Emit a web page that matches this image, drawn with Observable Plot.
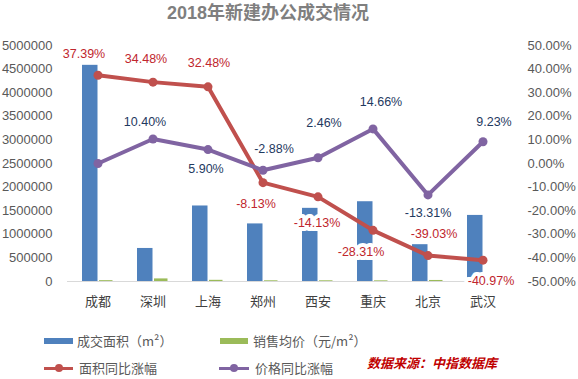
<!DOCTYPE html>
<html><head><meta charset="utf-8">
<script src="https://cdn.jsdelivr.net/npm/d3@7"></script>
<script src="https://cdn.jsdelivr.net/npm/@observablehq/plot@0.6"></script>
<style>
body{margin:0;background:#fff;}
#wrap{position:relative;width:578px;height:379px;overflow:hidden;font-family:"Liberation Sans","Noto Sans CJK SC",sans-serif;}
#title{position:absolute;left:167px;top:0;font-size:18px;font-weight:bold;color:#7f7f7f;line-height:26px;font-family:"Liberation Sans","Noto Sans CJK SC",sans-serif;white-space:nowrap;}
#chart{position:absolute;left:0;top:28px;}
.sw{position:absolute;}
.lt{position:absolute;font-size:13px;color:#595959;line-height:18px;white-space:nowrap;font-family:"Noto Sans CJK SC",sans-serif;}
.dot{position:absolute;width:8px;height:8px;border-radius:50%;}
#src{position:absolute;left:367px;top:354px;font-size:13px;line-height:18px;font-weight:bold;font-style:italic;color:#c00000;white-space:nowrap;font-family:"Noto Sans CJK SC",sans-serif;}
</style>
</head><body>
<div id="wrap">
  <div id="title">2018年新建办公成交情况</div>
  <div id="chart"></div>
  <div class="sw" style="left:44px;top:338px;width:29px;height:6px;background:#4f81bd"></div>
  <div class="lt" style="left:77px;top:332px">成交面积（m²）</div>
  <div class="sw" style="left:220px;top:338px;width:28px;height:6px;background:#9bbb59"></div>
  <div class="lt" style="left:253px;top:332px">销售均价（元/m²）</div>
  <div class="sw" style="left:44px;top:367px;width:29px;height:3px;background:#c0504d"></div>
  <div class="dot" style="left:55px;top:364px;background:#c0504d"></div>
  <div class="lt" style="left:79px;top:359px">面积同比涨幅</div>
  <div class="sw" style="left:219px;top:367px;width:30px;height:3px;background:#8064a2"></div>
  <div class="dot" style="left:230px;top:364px;background:#8064a2"></div>
  <div class="lt" style="left:255px;top:359px">价格同比涨幅</div>
  <div id="src">数据来源：中指数据库</div>
</div>
<script>
// ---- data ----
const cities = ["成都","深圳","上海","郑州","西安","重庆","北京","武汉"];
const area = [4580000, 700000, 1600000, 1220000, 1550000, 1690000, 780000, 1400000];      // 成交面积 (m²)
const price = [18000, 55000, 25000, 15000, 15000, 14000, 22000, 16000];                     // 销售均价 (元/m²)
const areaYoY = [37.39, 34.48, 32.48, -8.13, -14.13, -28.31, -39.03, -40.97];               // 面积同比涨幅 (%)
const priceYoY = [0.00, 10.40, 5.90, -2.88, 2.46, 14.66, -13.31, 9.23];                     // 价格同比涨幅 (%)
const leftTicks = [0,500000,1000000,1500000,2000000,2500000,3000000,3500000,4000000,4500000,5000000];

// ---- label placement (styling) ----
const redOff = {"成都":[-14,-21],"深圳":[-7,-23],"上海":[1,-24],"郑州":[-7,21],"西安":[-1,26],"重庆":[-12,22],"北京":[6,-22],"武汉":[8,21]};
const purOff = {"深圳":[-8,-17],"上海":[-2,19],"郑州":[11,-21],"西安":[6,-35],"重庆":[8,-27],"北京":[0,18],"武汉":[11,-20]};

const rows = cities.map((c,i)=>({city:c, area:area[i], price:price[i], a:areaYoY[i], p:priceYoY[i]}));
// secondary axis (-50%..50%) mapped onto primary (0..5,000,000)
const toLeft = v => (v + 50) * 50000;
const fmt = v => v.toFixed(2) + "%";
const purRows = rows.filter(d => purOff[d.city]);

const chart = Plot.plot({
  width: 578, height: 290,
  marginTop: 17, marginBottom: 37, marginLeft: 67, marginRight: 66,
  style: {fontFamily: "Liberation Sans, Noto Sans CJK SC, sans-serif", fontSize: "13px", color: "#595959", background: "#fff"},
  x: {type: "band", domain: cities, padding: 0},
  y: {domain: [0, 5000000]},
  marks: [
    Plot.axisY({anchor: "left", ticks: leftTicks, tickSize: 0, tickPadding: 15, tickFormat: d => String(d), label: null, fill: "#595959"}),
    Plot.axisY({anchor: "right", ticks: leftTicks, tickSize: 0, tickPadding: 15, tickFormat: d => fmt(d/50000 - 50), label: null, fill: "#595959"}),
    Plot.axisX({tickSize: 0, tickPadding: 15, label: null, fill: "#404040"}),
    Plot.barY(rows, {x: "city", y: "area", fill: "#4f81bd", insetLeft: 12, insetRight: 27.5}),
    Plot.barY(rows, {x: "city", y: "price", fill: "#9bbb59", insetLeft: 29, insetRight: 12.5}),
    Plot.ruleY([0], {stroke: "#d9d9d9"}),
    Plot.line(rows, {x: "city", y: d => toLeft(d.a), stroke: "#c0504d", strokeWidth: 4}),
    Plot.dot(rows, {x: "city", y: d => toLeft(d.a), fill: "#c0504d", r: 4.5}),
    Plot.line(rows, {x: "city", y: d => toLeft(d.p), stroke: "#8064a2", strokeWidth: 4}),
    Plot.dot(rows, {x: "city", y: d => toLeft(d.p), fill: "#8064a2", r: 4.5}),
    ...rows.map(d => Plot.text([d], {x: "city", y: r => toLeft(r.a), text: r => fmt(r.a), dx: redOff[d.city][0], dy: redOff[d.city][1], fill: "#c0262d", stroke: "#fff", strokeWidth: 8, fontSize: 12.5})),
    ...purRows.map(d => Plot.text([d], {x: "city", y: r => toLeft(r.p), text: r => fmt(r.p), dx: purOff[d.city][0], dy: purOff[d.city][1], fill: "#1f3a5f", stroke: "#fff", strokeWidth: 8, fontSize: 12.5}))
  ]
});
document.getElementById("chart").appendChild(chart);
</script>
</body></html>
